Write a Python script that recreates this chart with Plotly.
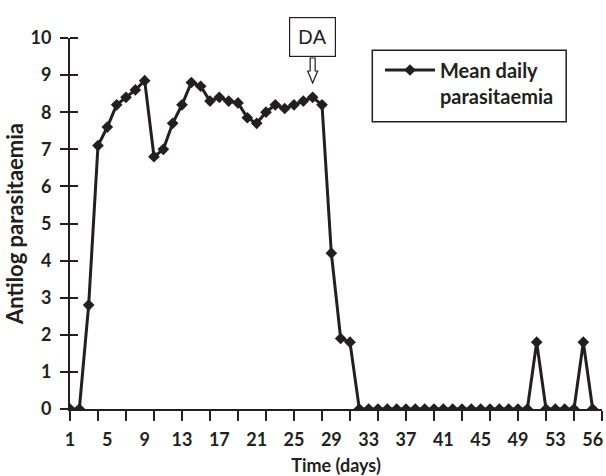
import plotly.graph_objects as go

# ---- data ----
days = list(range(1, 58))
parasitaemia = [
    0.0, 0.0, 2.8, 7.1, 7.6, 8.2, 8.4, 8.6, 8.85, 6.8,
    7.0, 7.7, 8.2, 8.8, 8.7, 8.3, 8.4, 8.3, 8.25, 7.85,
    7.7, 8.0, 8.2, 8.1, 8.2, 8.3, 8.4, 8.2, 4.2, 1.9,
    1.8, 0.0, 0.0, 0.0, 0.0, 0.0, 0.0, 0.0, 0.0, 0.0,
    0.0, 0.0, 0.0, 0.0, 0.0, 0.0, 0.0, 0.0, 0.0, 0.0,
    1.8, 0.0, 0.0, 0.0, 0.0, 1.8, 0.0,
]
label_pos = [1, 5, 9, 13, 17, 21, 25, 29, 33, 37, 41, 45, 49, 53, 57]
label_text = ["1", "5", "9", "13", "17", "21", "25", "29", "33", "37", "41", "45", "49", "53", "56"]
TICK_START, TICK_STEP = 1, 3     # x tick marks every 3 days
LABEL_STEP = 4                   # x labels every 4 days
DA_DAY = 27

DARK = "#231f20"
CLEAR = "rgba(0,0,0,0)"
FONT = "Lato"

W, H = 606, 476
ML, MR, MT, MB = 70, 4, 38, 67
PW = W - ML - MR
PH = H - MT - MB
X_RANGE = [1, 58]
Y_RANGE = [0, 10]


def px_x(p):
    return (p - ML) / PW


def px_y(p):
    return (PH + MT - p) / PH


fig = go.Figure()
fig.add_trace(go.Scatter(
    x=days, y=parasitaemia, mode="lines+markers",
    name="Mean daily<br>parasitaemia",
    line=dict(color=DARK, width=3),
    marker=dict(symbol="diamond", size=9, color=DARK),
))
# helper traces so the label axes (x2, y2) are drawn
fig.add_trace(go.Scatter(x=[days[0]], y=[0], xaxis="x2", yaxis="y", mode="markers",
                         marker=dict(opacity=0), showlegend=False, hoverinfo="skip"))
fig.add_trace(go.Scatter(x=[days[0]], y=[0], xaxis="x", yaxis="y2", mode="markers",
                         marker=dict(opacity=0), showlegend=False, hoverinfo="skip"))

bold18 = dict(family=FONT, size=18, weight="bold", color=DARK)

fig.update_layout(
    width=W, height=H,
    margin=dict(l=ML, r=MR, t=MT, b=MB, autoexpand=False),
    plot_bgcolor="white", paper_bgcolor="white",
    font=dict(family=FONT, color=DARK),
    showlegend=True,
    legend=dict(
        x=px_x(380), y=px_y(50.5),
        xanchor="left", yanchor="top", valign="top",
        itemwidth=50, borderwidth=0, bgcolor=CLEAR,
        font=dict(family=FONT, size=20, weight="bold", color=DARK),
    ),
    xaxis=dict(
        range=X_RANGE, showline=True, linecolor=DARK, linewidth=2,
        tickmode="linear", tick0=TICK_START, dtick=TICK_STEP,
        ticks="outside", ticklen=10, tickwidth=2, tickcolor=DARK,
        showticklabels=False, showgrid=False, zeroline=False,
    ),
    xaxis2=dict(
        overlaying="x", anchor="y", side="bottom", range=X_RANGE,
        tickmode="linear", tick0=label_pos[0], dtick=LABEL_STEP,
        labelalias={str(p): t for p, t in zip(label_pos, label_text) if str(p) != t},
        ticks="outside", ticklen=14, tickcolor=CLEAR,
        tickfont=bold18, showline=False, showgrid=False, zeroline=False,
        title=dict(text="Time (days)", font=dict(family=FONT, size=18, weight="bold", color=DARK), standoff=11),
    ),
    yaxis=dict(
        range=Y_RANGE, showline=True, linecolor=DARK, linewidth=2,
        tickmode="linear", tick0=0, dtick=1,
        ticks="outside", ticklen=8, tickwidth=2, tickcolor=DARK,
        minor=dict(ticks="inside", ticklen=8, tickwidth=2, tickcolor=DARK, tick0=0, dtick=1),
        showticklabels=False, showgrid=False, zeroline=False,
    ),
    yaxis2=dict(
        overlaying="y", anchor="x", side="left", range=Y_RANGE,
        tickmode="linear", tick0=0, dtick=1,
        ticks="outside", ticklen=14, tickcolor=CLEAR,
        tickfont=bold18, showline=False, showgrid=False, zeroline=False,
        title=dict(text="Antilog parasitaemia", font=dict(family=FONT, size=22, weight="bold", color=DARK), standoff=0),
    ),
)

# legend frame
fig.add_shape(
    type="rect", xref="paper", yref="paper",
    x0=px_x(372.3), x1=px_x(566.2), y0=px_y(121.7), y1=px_y(50.2),
    line=dict(color=DARK, width=1.5), fillcolor="white", layer="below",
)

# "DA" label box
fig.add_annotation(
    x=DA_DAY, xref="x", y=px_y(37.5), yref="paper",
    text="DA", showarrow=False, xanchor="center", yanchor="middle",
    font=dict(family="Liberation Sans", size=20, color=DARK),
    borderpad=8, bordercolor=DARK, borderwidth=1.2, bgcolor="white",
)
# hollow block arrow pointing down at DA day (paper coordinates)
ax_c = px_x(ML + (DA_DAY - X_RANGE[0]) * PW / (X_RANGE[1] - X_RANGE[0]))
dxp = 1 / PW
arrow = [(0, 83), (-5, 71), (-2.5, 71), (-2.5, 58), (2.5, 58), (2.5, 71), (5, 71)]
path = "M " + " L ".join(f"{ax_c + dx * dxp:.5f} {px_y(py):.5f}" for dx, py in arrow) + " Z"
fig.add_shape(
    type="path", xref="paper", yref="paper", path=path,
    line=dict(color=DARK, width=1.2), fillcolor="white",
)

fig.write_html(
    "out.html",
    config={"displayModeBar": False},
    post_script="document.body.style.margin='0';document.body.style.overflow='hidden';",
)
